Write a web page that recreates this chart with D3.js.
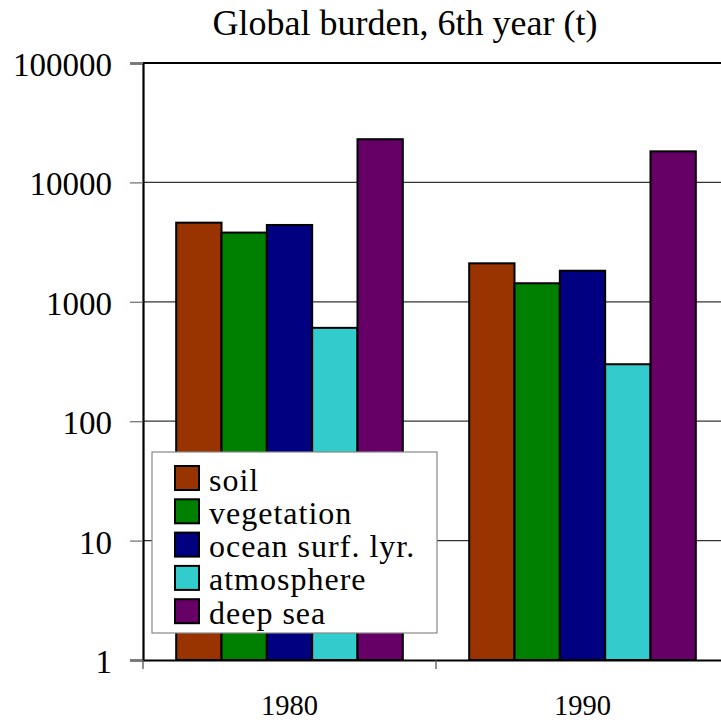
<!DOCTYPE html>
<html>
<head>
<meta charset="utf-8">
<script src="https://cdn.jsdelivr.net/npm/d3@7"></script>
<style>
  html, body { margin: 0; padding: 0; background: #fff; overflow: hidden; }
  svg { display: block; font-family: "Liberation Serif", "Times New Roman", serif; }
</style>
</head>
<body>
<svg id="chart" width="721" height="720"></svg>
<script>
// ---- data ----
const categories = ["1980", "1990"];
const seriesNames = ["soil", "vegetation", "ocean surf. lyr.", "atmosphere", "deep sea"];
const seriesColors = ["#993300", "#008000", "#000080", "#33CCCC", "#660066"];
const soil = [4600, 2100];
const vegetation = [3800, 1430];
const oceanSurf = [4400, 1820];
const atmosphere = [605, 300];
const deepSea = [23000, 18200];
const yTicks = [1, 10, 100, 1000, 10000, 100000];
const titleText = "Global burden, 6th year (t)";

const seriesValues = [soil, vegetation, oceanSurf, atmosphere, deepSea];

// ---- layout ----
const FONT = "'Liberation Serif', 'Times New Roman', serif";
const svg = d3.select("#chart");
const plotLeft = 143, plotRight = 729, plotTop = 63, plotBottom = 660;

const x = d3.scaleBand().domain(categories).range([plotLeft, plotRight]).padding(0);
const xs = d3.scaleBand().domain(seriesNames).range([0, x.bandwidth()])
  .paddingInner(0).paddingOuter(0.732);
const y = d3.scaleLog().domain([1, 100000]).range([plotBottom, plotTop]);

// title
svg.append("text")
  .attr("x", 405).attr("y", 35)
  .attr("text-anchor", "middle")
  .attr("font-family", FONT)
  .attr("font-size", 36)
  .attr("fill", "#000")
  .text(titleText);

// gridlines
svg.append("g").selectAll("line")
  .data(yTicks.filter(d => d > 1 && d < 100000))
  .join("line")
  .attr("x1", plotLeft).attr("x2", plotRight)
  .attr("y1", d => y(d)).attr("y2", d => y(d))
  .attr("stroke", "#333").attr("stroke-width", 1.3);

// top frame line
svg.append("line")
  .attr("x1", plotLeft).attr("x2", plotRight)
  .attr("y1", plotTop).attr("y2", plotTop)
  .attr("stroke", "#000").attr("stroke-width", 2.2);

// bars
const barData = [];
categories.forEach((c, i) => {
  seriesNames.forEach((s, j) => {
    barData.push({ cat: c, series: s, value: seriesValues[j][i], color: seriesColors[j] });
  });
});
svg.append("g").selectAll("rect")
  .data(barData)
  .join("rect")
  .attr("x", d => x(d.cat) + xs(d.series))
  .attr("width", xs.bandwidth())
  .attr("y", d => y(d.value))
  .attr("height", d => y(1) - y(d.value))
  .attr("fill", d => d.color)
  .attr("stroke", "#000")
  .attr("stroke-width", 2);

// y axis
const yAxis = d3.axisLeft(y)
  .tickValues(yTicks)
  .tickFormat(d3.format("d"))
  .tickSize(13)
  .tickPadding(18);
const gy = svg.append("g").attr("transform", `translate(${plotLeft},0)`).call(yAxis)
  .attr("font-family", FONT);
gy.select(".domain").attr("stroke", "#000").attr("stroke-width", 2.2);
gy.selectAll(".tick line").attr("stroke", "#777").attr("stroke-width", 1.3);
gy.selectAll(".tick text")
  .attr("font-family", FONT)
  .attr("font-size", 33)
  .attr("fill", "#000")
  .attr("dy", "0.38em");

// x axis
const xAxis = d3.axisBottom(x).tickSize(0).tickPadding(0);
const gx = svg.append("g").attr("transform", `translate(0,${plotBottom})`).call(xAxis)
  .attr("font-family", FONT);
gx.select(".domain").attr("stroke", "#000").attr("stroke-width", 2.2);
gx.selectAll(".tick text")
  .attr("font-family", FONT)
  .attr("font-size", 28.5)
  .attr("fill", "#000")
  .attr("y", 55).attr("dy", 0);
// category boundary ticks
const bounds = categories.map(c => x(c)).concat([x(categories[categories.length - 1]) + x.bandwidth()]);
gx.append("g").selectAll("line")
  .data(bounds)
  .join("line")
  .attr("x1", d => d).attr("x2", d => d)
  .attr("y1", 0).attr("y2", 9)
  .attr("stroke", "#555").attr("stroke-width", 1.3);

// legend
const lg = svg.append("g").attr("transform", "translate(152,452)");
lg.append("rect")
  .attr("width", 285).attr("height", 181)
  .attr("fill", "#fff")
  .attr("stroke", "#888").attr("stroke-width", 1.2);
const rows = lg.selectAll("g.row")
  .data(seriesNames)
  .join("g")
  .attr("class", "row")
  .attr("transform", (d, i) => `translate(23,${14 + i * 33.3})`);
rows.append("rect")
  .attr("width", 24).attr("height", 24)
  .attr("fill", (d, i) => seriesColors[i])
  .attr("stroke", "#000").attr("stroke-width", 2);
rows.append("text")
  .attr("x", 34).attr("y", 24.5)
  .attr("font-family", FONT)
  .attr("font-size", 32)
  .attr("letter-spacing", 1)
  .attr("fill", "#000")
  .text(d => d);
</script>
</body>
</html>
